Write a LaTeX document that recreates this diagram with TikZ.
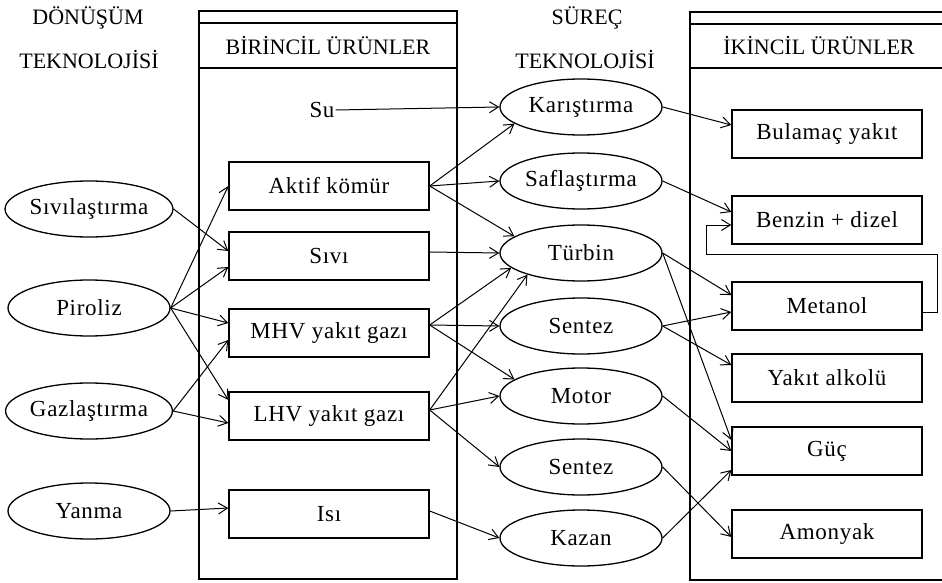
\documentclass[tikz,border=0pt]{standalone}
\usepackage{fontspec}
\setmainfont{Liberation Serif}[LetterSpace=3]
\newfontfamily\hdrfont{Liberation Serif}
\usetikzlibrary{shapes.geometric,arrows.meta}
\begin{document}
\begin{tikzpicture}[x=1pt,y=-1pt,
  font=\fontsize{23}{27}\selectfont,
  ell/.style={ellipse, draw, line width=1.3pt, minimum width=162pt, minimum height=56pt, inner sep=0pt},
  pbox/.style={rectangle, draw, line width=1.4pt, minimum width=200pt, minimum height=48pt, inner sep=0pt},
  sbox/.style={pbox, minimum width=190pt},
  arr/.style={-{Straight Barb[length=9pt,width=11pt]}, line width=1pt},
  hdr/.style={font=\hdrfont\fontsize{22}{26}\selectfont, inner sep=0pt},
  panel/.style={line width=1.5pt}]
\useasboundingbox (0,0) rectangle (942,583);
% column headers
\node[hdr] (h1a) at (88,18) {DÖNÜŞÜM};
\node[hdr] (h1b) at (89,60) {TEKNOLOJİSİ};
\node[hdr] (h3a) at (587,18) {SÜREÇ};
\node[hdr] (h3b) at (585,60) {TEKNOLOJİSİ};
% panels
\draw[panel] (199,11) rectangle (457,579);
\draw[panel] (199,23) -- (457,23);
\draw[panel] (199,68) -- (457,68);
\node[hdr] (p1) at (328,46) {BİRİNCİL ÜRÜNLER};
\draw[panel] (942,12) -- (690,12) -- (690,580) -- (942,580);
\draw[panel] (690,24) -- (942,24);
\draw[panel] (690,68) -- (942,68);
\node[hdr] (p2) at (819,46) {İKİNCİL ÜRÜNLER};
% conversion technologies
\node[ell] (siv) at (89,209) {Sıvılaştırma};
\node[ell] (pir) at (89,308) {Piroliz};
\node[ell] (gaz) at (89,411) {Gazlaştırma};
\node[ell] (yan) at (89,511) {Yanma};
% primary products
\node[inner sep=1pt] (su) at (322,110) {Su};
\node[pbox] (akt) at (329,186) {Aktif kömür};
\node[pbox] (sivi) at (329,256) {Sıvı};
\node[pbox] (mhv) at (329,333) {MHV yakıt gazı};
\node[pbox] (lhv) at (329,416) {LHV yakıt gazı};
\node[pbox] (isi) at (329,514) {Isı};
% process technologies
\node[ell] (kar) at (581,107) {Karıştırma};
\node[ell] (saf) at (581,181) {Saflaştırma};
\node[ell] (tur) at (581,253) {Türbin};
\node[ell] (sen1) at (581,326) {Sentez};
\node[ell] (mot) at (581,396) {Motor};
\node[ell] (sen2) at (581,467) {Sentez};
\node[ell] (kaz) at (581,538) {Kazan};
% secondary products
\node[sbox] (bul) at (827,134) {Bulamaç yakıt};
\node[sbox] (ben) at (827,220) {Benzin + dizel};
\node[sbox] (met) at (827,306) {Metanol};
\node[sbox] (alk) at (827,378) {Yakıt alkolü};
\node[sbox] (guc) at (827,451) {Güç};
\node[sbox] (amo) at (827,534) {Amonyak};
% conversion -> primary
\draw[arr] (siv.east) -- ([yshift=5pt]sivi.west);
\draw[arr] (pir.east) -- (akt.west);
\draw[arr] (pir.east) -- ([yshift=-11pt]sivi.west);
\draw[arr] (pir.east) -- ([yshift=10pt]mhv.west);
\draw[arr] (pir.east) -- ([yshift=16pt]lhv.west);
\draw[arr] (gaz.east) -- ([yshift=-7pt]mhv.west);
\draw[arr] (gaz.east) -- ([yshift=-7pt]lhv.west);
\draw[arr] (yan.east) -- ([yshift=6pt]isi.west);
% primary -> process
\draw[arr] (su.east) -- (kar.west);
\draw[arr] (akt.east) -- (kar.194);
\draw[arr] (akt.east) -- (saf.west);
\draw[arr] (akt.east) -- (tur.166);
\draw[arr] ([yshift=4pt]sivi.east) -- (tur.west);
\draw[arr] ([yshift=8pt]mhv.east) -- (tur.192);
\draw[arr] ([yshift=8pt]mhv.east) -- (sen1.west);
\draw[arr] ([yshift=8pt]mhv.east) -- (mot.166);
\draw[arr] ([yshift=6pt]lhv.east) -- (tur.202);
\draw[arr] ([yshift=6pt]lhv.east) -- (mot.west);
\draw[arr] ([yshift=6pt]lhv.east) -- (sen2.west);
\draw[arr] ([yshift=3pt]isi.east) -- (kaz.west);
% process -> secondary
\draw[arr] (kar.east) -- ([yshift=9pt]bul.west);
\draw[arr] (saf.east) -- ([yshift=8pt]ben.west);
\draw[arr] (tur.east) -- ([yshift=11pt]met.west);
\draw[arr] (tur.east) -- ([yshift=11pt]guc.west);
\draw[arr] (sen1.east) -- ([yshift=-6pt]met.west);
\draw[arr] (sen1.east) -- ([yshift=13pt]alk.west);
\draw[arr] (mot.east) -- (guc.west);
\draw[arr] (sen2.east) -- ([yshift=-3pt]amo.west);
\draw[arr] (kaz.east) -- ([yshift=-19pt]guc.west);
% feedback loop Metanol -> Benzin
\coordinate (loopR) at (937,254);
\coordinate (loopL) at (706,225);
\draw[arr] ([yshift=-6pt]met.east) -| (loopR) -| (loopL) -- ([yshift=-5pt]ben.west);
\end{tikzpicture}
\end{document}
